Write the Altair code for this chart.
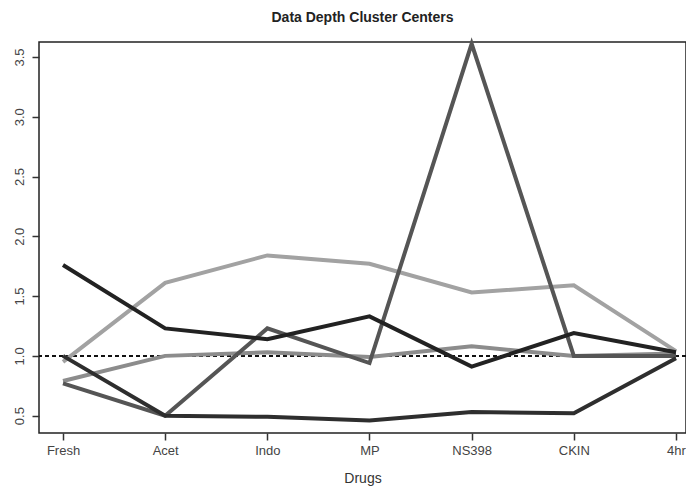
import altair as alt
import pandas as pd

drugs = ["Fresh", "Acet", "Indo", "MP", "NS398", "CKIN", "4hr"]
c1 = [1.76, 1.23, 1.14, 1.33, 0.91, 1.19, 1.03]
c2 = [1.00, 0.50, 0.49, 0.46, 0.53, 0.52, 0.98]
c3 = [0.77, 0.50, 1.23, 0.94, 3.61, 1.00, 1.00]
c4 = [0.95, 1.61, 1.84, 1.77, 1.53, 1.59, 1.04]
c5 = [0.79, 1.00, 1.03, 0.99, 1.08, 1.00, 1.02]
clusters = ["C4", "C5", "C3", "C2", "C1"]
series = {"C1": c1, "C2": c2, "C3": c3, "C4": c4, "C5": c5}
colors = ["#a2a2a2", "#8c8c8c", "#555555", "#2e2e2e", "#222222"]

rows = []
for name in clusters:
    for i, v in enumerate(series[name]):
        rows.append({"cluster": name, "idx": i + 1, "drug": drugs[i], "value": v})
df = pd.DataFrame(rows)

label_expr = "[" + ",".join("'%s'" % d for d in drugs) + "][datum.value - 1]"

base = alt.Chart(df)
lines = base.mark_line(strokeWidth=4, strokeJoin="miter").encode(
    x=alt.X("idx:Q", scale=alt.Scale(domain=[0.765, 7.098], nice=False, zero=False),
            axis=alt.Axis(values=list(range(1, 8)), labelExpr=label_expr, title="Drugs",
                          grid=False, domain=False, tickSize=7, tickWidth=1.5,
                          tickColor="#333333", labelPadding=4, labelFontSize=13,
                          labelColor="#444444", labelFont="Liberation Sans",
                          titleFont="Liberation Sans", titleFontSize=14,
                          titleFontWeight="normal", titleColor="#333333",
                          titlePadding=14)),
    y=alt.Y("value:Q", scale=alt.Scale(domain=[0.355, 3.625], nice=False, zero=False),
            axis=alt.Axis(values=[0.5, 1.0, 1.5, 2.0, 2.5, 3.0, 3.5], format=".1f", title=None,
                          grid=False, domain=False, tickSize=7, tickWidth=1.5,
                          tickColor="#333333", labelAngle=270, labelAlign="center",
                          labelBaseline="bottom", labelPadding=6, labelFontSize=13,
                          labelColor="#444444", labelFont="Liberation Sans")),
    color=alt.Color("cluster:N", scale=alt.Scale(domain=clusters, range=colors), legend=None),
    order=alt.Order("idx:Q"),
    detail="cluster:N",
)

hline = alt.Chart(pd.DataFrame({"y": [1.0]})).mark_rule(
    color="#111111", strokeWidth=2, strokeDash=[4, 3]
).encode(y="y:Q")

chart = alt.layer(hline, lines).properties(
    width=647, height=391,
    title=alt.TitleParams("Data Depth Cluster Centers", font="Liberation Sans", fontSize=14,
                          fontWeight="bold", color="#222222", offset=11),
    autosize=alt.AutoSizeParams(type="none"),
    padding={"left": 31, "top": 34, "right": 0, "bottom": 54},
).configure_view(stroke="#222222", strokeWidth=1.5)

chart.save("out.html", embed_options={"renderer": "svg", "actions": False})
